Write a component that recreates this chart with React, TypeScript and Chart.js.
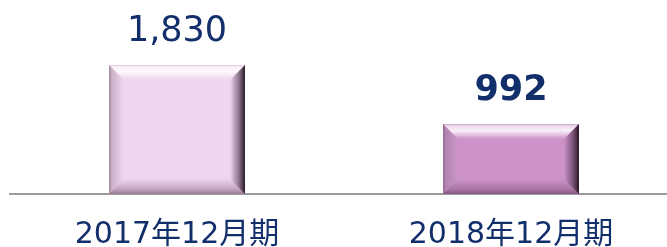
import React, { useEffect, useRef } from "react";
import { Chart, registerables } from "chart.js";

Chart.register(...registerables);

const categories = ["2017年12月期", "2018年12月期"];
const values = [1830, 992];
const valueLabels = ["1,830", "992"];
const valueBold = [false, true];
const faceColors = ["#F0D5EE", "#CD93C9"];

const TEXT_COLOR = "#122F6B";
const FONT = "'DejaVu Sans', Verdana, 'Noto Sans CJK JP', sans-serif";

const bevelPlugin = {
  id: "bevel",
  afterDatasetsDraw(chart: any) {
    const ctx = chart.ctx;
    const meta = chart.getDatasetMeta(0);
    meta.data.forEach((bar: any, i: number) => {
      const p = bar.getProps(["x", "y", "base", "width"], true);
      const x0 = p.x - p.width / 2;
      const x1 = p.x + p.width / 2;
      const y0 = p.y;
      const y1 = p.base;
      const b = 15;
      ctx.save();
      // top bevel
      let g = ctx.createLinearGradient(0, y0, 0, y0 + b);
      g.addColorStop(0, "rgba(200,180,200,0.5)");
      g.addColorStop(0.12, "rgba(255,255,255,0.65)");
      g.addColorStop(0.45, "rgba(255,255,255,0.85)");
      g.addColorStop(1, "rgba(255,255,255,0)");
      ctx.fillStyle = g;
      ctx.beginPath();
      ctx.moveTo(x0, y0);
      ctx.lineTo(x1, y0);
      ctx.lineTo(x1 - b, y0 + b);
      ctx.lineTo(x0 + b, y0 + b);
      ctx.closePath();
      ctx.fill();
      // left bevel
      g = ctx.createLinearGradient(x0, 0, x0 + b, 0);
      g.addColorStop(0, "rgba(90,70,90,0.55)");
      g.addColorStop(0.2, "rgba(120,100,120,0.3)");
      g.addColorStop(1, "rgba(120,100,120,0)");
      ctx.fillStyle = g;
      ctx.beginPath();
      ctx.moveTo(x0, y0);
      ctx.lineTo(x0 + b, y0 + b);
      ctx.lineTo(x0 + b, y1 - b);
      ctx.lineTo(x0, y1);
      ctx.closePath();
      ctx.fill();
      // bottom bevel
      g = ctx.createLinearGradient(0, y1 - b, 0, y1);
      g.addColorStop(0, "rgba(80,40,80,0)");
      g.addColorStop(0.7, "rgba(80,40,80,0.3)");
      g.addColorStop(1, "rgba(60,30,60,0.5)");
      ctx.fillStyle = g;
      ctx.beginPath();
      ctx.moveTo(x0, y1);
      ctx.lineTo(x0 + b, y1 - b);
      ctx.lineTo(x1 - b, y1 - b);
      ctx.lineTo(x1, y1);
      ctx.closePath();
      ctx.fill();
      // right bevel
      g = ctx.createLinearGradient(x1 - b, 0, x1, 0);
      g.addColorStop(0, "rgba(40,20,40,0)");
      g.addColorStop(0.6, "rgba(40,20,40,0.5)");
      g.addColorStop(1, "rgba(30,15,30,0.95)");
      ctx.fillStyle = g;
      ctx.beginPath();
      ctx.moveTo(x1, y0);
      ctx.lineTo(x1, y1);
      ctx.lineTo(x1 - b, y1 - b);
      ctx.lineTo(x1 - b, y0 + b);
      ctx.closePath();
      ctx.fill();
      ctx.restore();

      // value label
      ctx.save();
      ctx.fillStyle = TEXT_COLOR;
      ctx.font = `${valueBold[i] ? "bold " : ""}35px ${FONT}`;
      ctx.textAlign = "center";
      ctx.textBaseline = "alphabetic";
      ctx.fillText(valueLabels[i], p.x, y0 - 24);
      ctx.restore();
    });
  },
};

export default function App() {
  const ref = useRef<HTMLCanvasElement>(null);
  useEffect(() => {
    if (!ref.current) return;
    const chart = new Chart(ref.current, {
      type: "bar",
      data: {
        labels: categories,
        datasets: [
          {
            data: values,
            backgroundColor: faceColors,
            borderWidth: 0,
            barPercentage: 0.407,
            categoryPercentage: 1,
          },
        ],
      },
      options: {
        animation: false,
        responsive: false,
        maintainAspectRatio: false,
        layout: { padding: { left: 10, right: 2, top: 0, bottom: 0 } },
        plugins: { legend: { display: false }, tooltip: { enabled: false } },
        scales: {
          x: {
            grid: { display: false },
            border: { display: true, color: "#9C9C9C", width: 2 },
            ticks: {
              color: TEXT_COLOR,
              font: { family: FONT, size: 30 },
              padding: 15,
              maxRotation: 0,
              autoSkip: false,
            },
            afterFit(scale: any) {
              scale.height = 53;
            },
          },
          y: {
            display: false,
            min: 0,
            max: 2750,
          },
        },
      },
      plugins: [bevelPlugin],
    });
    return () => chart.destroy();
  }, []);
  return (
    <div
      style={{
        position: "fixed",
        left: 0,
        top: 0,
        width: 667,
        height: 247,
        overflow: "hidden",
        background: "#fff",
      }}
    >
      <canvas ref={ref} width={680} height={247} style={{ width: 680, height: 247, display: "block" }} />
    </div>
  );
}
